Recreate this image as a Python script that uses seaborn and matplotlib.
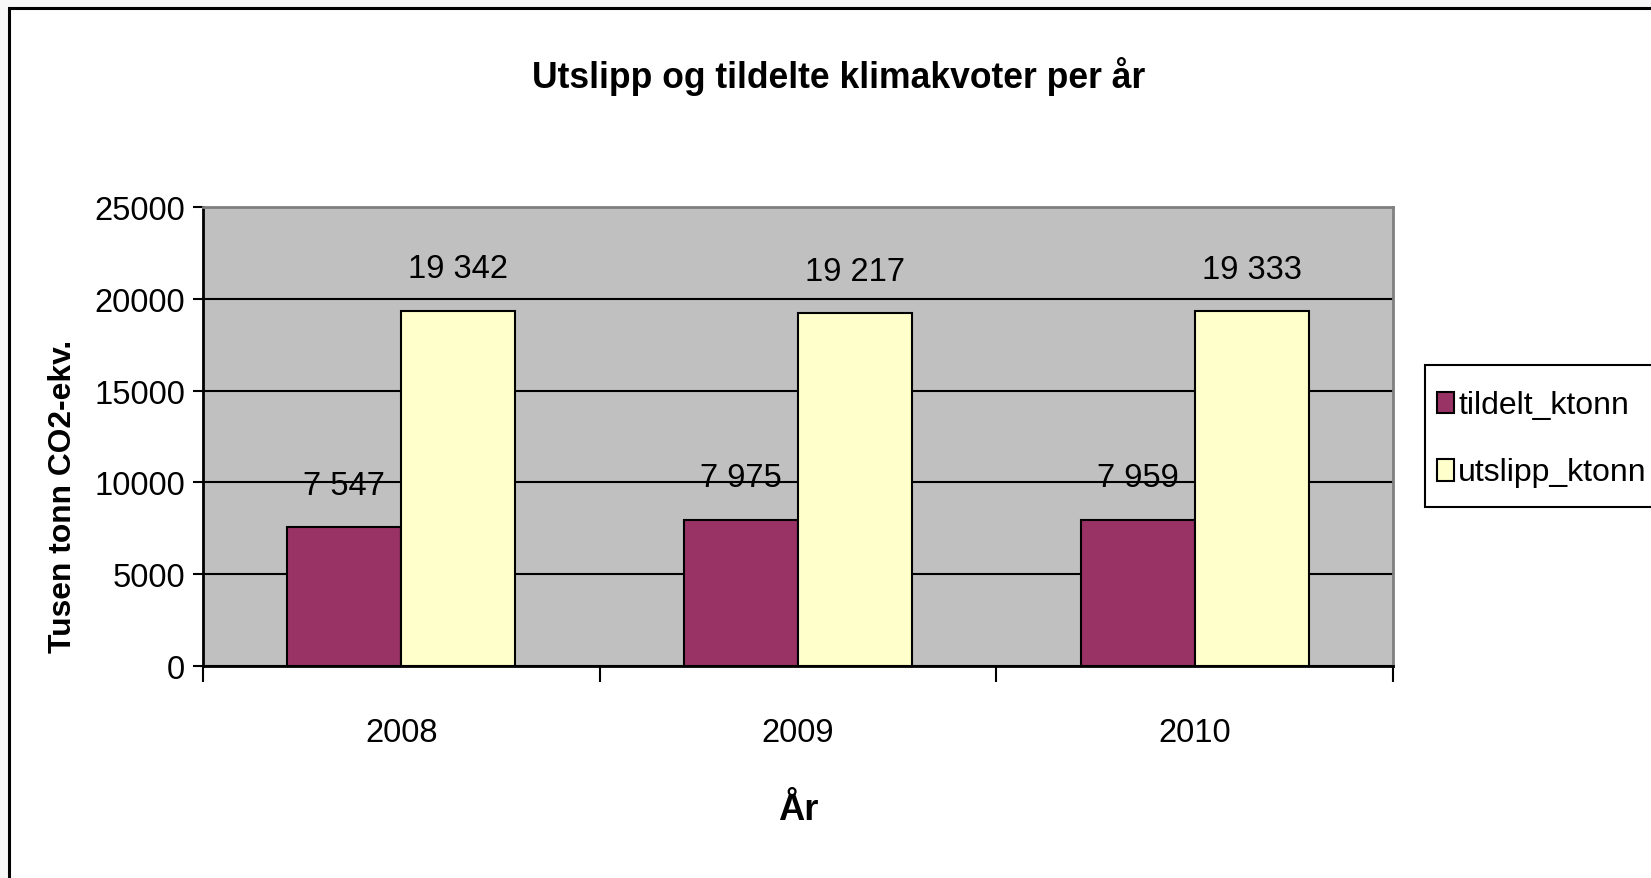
"""Utslipp og tildelte klimakvoter per aar - gruppert stolpediagram."""
import matplotlib
matplotlib.use("Agg")
import matplotlib.pyplot as plt
from matplotlib import font_manager
from matplotlib.patches import Rectangle, Patch
from matplotlib.legend_handler import HandlerPatch
import seaborn as sns
import pandas as pd

# data lest av figuren
aar = ["2008", "2009", "2010"]
tildelt_ktonn = [7547, 7975, 7959]
utslipp_ktonn = [19342, 19217, 19333]
serier = ["tildelt_ktonn", "utslipp_ktonn"]
farger = ["#993366", "#FFFFCC"]

df = pd.DataFrame({
    "aar": aar * 2,
    "verdi": tildelt_ktonn + utslipp_ktonn,
    "serie": [serier[0]] * 3 + [serier[1]] * 3,
})

sns.set_style("white")
navn = {f.name for f in font_manager.fontManager.ttflist}
if "Liberation Sans Narrow" in navn:
    plt.rcParams["font.family"] = ["Liberation Sans Narrow", "DejaVu Sans"]
    k = 1.0
else:
    plt.rcParams["font.family"] = ["Liberation Sans", "DejaVu Sans"]
    k = 0.87
plt.rcParams["text.color"] = "black"
plt.rcParams["xtick.color"] = "black"
plt.rcParams["ytick.color"] = "black"
plt.rcParams["axes.labelcolor"] = "black"
fs = 27 * k

fig = plt.figure(figsize=(16.51, 8.79), dpi=100, facecolor="#f7f7f7")
# ramme rundt hele diagrammet (slik som i Excel)
fig.add_artist(Rectangle((9 / 1651, -0.1), 1.2, 1 - 9 / 879 + 0.1,
                         transform=fig.transFigure, facecolor="white",
                         edgecolor="black", lw=2.2, zorder=-5))

ax = fig.add_axes([203 / 1651, 1 - 667 / 879, 1190 / 1651, 459 / 879])
ax.set_facecolor("#C0C0C0")

sns.barplot(data=df, x="aar", y="verdi", hue="serie", palette=farger,
            width=0.574, saturation=1, edgecolor="black", linewidth=1.5,
            ax=ax, zorder=3)

for cont in ax.containers:
    etiketter = [f"{int(v):,}".replace(",", " ") for v in cont.datavalues]
    ax.bar_label(cont, labels=etiketter, padding=19, fontsize=fs,
                 color="black", zorder=4)

ax.set_ylim(0, 25000)
ax.set_xlim(-0.5, 2.5)
ax.set_yticks(range(0, 25001, 5000))
ax.yaxis.grid(True, color="black", lw=1.5, zorder=1)
ax.set_axisbelow(True)

ax.tick_params(axis="y", which="major", direction="out", length=7, width=1.5,
               pad=6, labelsize=fs, left=True, color="black")
ax.tick_params(axis="x", which="major", length=0, pad=37, labelsize=fs)
ax.set_xticks([-0.5, 0.5, 1.5, 2.5], minor=True)
ax.tick_params(axis="x", which="minor", direction="out", length=11.5,
               width=1.5, bottom=True, color="black")

for s in ["left", "bottom"]:
    ax.spines[s].set_color("black")
    ax.spines[s].set_linewidth(2)
for s in ["top", "right"]:
    ax.spines[s].set_color("#808080")
    ax.spines[s].set_linewidth(2)

ax.set_xlabel("År", fontsize=30 * k, fontweight="bold")
ax.xaxis.set_label_coords(0.5, -0.275)
ax.set_ylabel("Tusen tonn CO2-ekv.", fontsize=26.3 * k, fontweight="bold")
ax.yaxis.set_label_coords(-0.105, 0.3725)

fig.text(839 / 1651, 1 - 88 / 879, "Utslipp og tildelte klimakvoter per år",
         ha="center", va="baseline", fontsize=29.4 * k, fontweight="bold")


# liten firkant midt i en hoy handle-boks, gir luft over/under radene
def liten_firkant(legend, orig_handle, xdescent, ydescent, width, height, fontsize):
    h = 0.68 * fontsize
    return Rectangle((-xdescent, -ydescent + (height - h) / 2), width, h)


ax.get_legend().remove()
handles = [Patch(facecolor=c, edgecolor="black", lw=1.5) for c in farger]
leg = fig.legend(handles, serier, loc="upper left",
                 bbox_to_anchor=(1425 / 1651, 1 - 366 / 879), borderaxespad=0,
                 fontsize=23, frameon=True, fancybox=False, framealpha=1,
                 edgecolor="black", handlelength=0.55, handleheight=2.1,
                 handletextpad=0.12, labelspacing=0.5, borderpad=0.37,
                 handler_map={Patch: HandlerPatch(patch_func=liten_firkant)})
leg.get_frame().set_linewidth(1.5)

fig.savefig("out.png", dpi=100, facecolor=fig.get_facecolor())
